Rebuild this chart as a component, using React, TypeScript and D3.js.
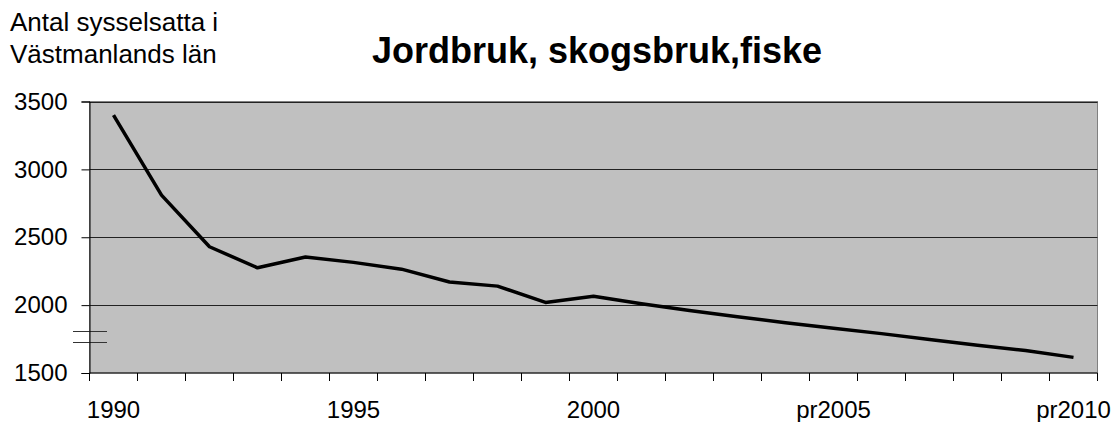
import React, { useEffect, useRef } from "react";
import * as d3 from "d3";

const categories = [
  "1990", "1991", "1992", "1993", "1994", "1995", "1996", "1997", "1998", "1999",
  "2000", "2001", "2002", "2003", "2004", "pr2005", "pr2006", "pr2007", "pr2008", "pr2009",
  "pr2010",
];
const values = [
  3400, 2810, 2430, 2275, 2355, 2315, 2265, 2170, 2140, 2020,
  2065, 2010, 1960, 1915, 1870, 1830, 1790, 1746, 1704, 1665,
  1615,
];
const shownLabels = ["1990", "1995", "2000", "pr2005", "pr2010"];
const yTicks = [1500, 2000, 2500, 3000, 3500];
const title = "Jordbruk, skogsbruk,fiske";
const yTitle = ["Antal sysselsatta i", "Västmanlands län"];

const App = () => {
  const ref = useRef(null);

  useEffect(() => {
    const width = 1117;
    const height = 422;
    const left = 89.5;
    const right = 1097.5;
    const top = 101.5;
    const bottom = 373;
    const font = "'Liberation Sans', Arial, sans-serif";

    document.body.style.margin = "0";
    d3.select(ref.current).selectAll("*").remove();
    const svg = d3
      .select(ref.current)
      .append("svg")
      .attr("width", width)
      .attr("height", height)
      .style("display", "block");

    const x = d3.scaleBand().domain(categories).range([left, right]);
    const y = d3.scaleLinear().domain([1500, 3500]).range([bottom, top]);

    // plot area
    svg
      .append("rect")
      .attr("x", left)
      .attr("y", top)
      .attr("width", right - left)
      .attr("height", bottom - top)
      .style("fill", "#c0c0c0")
      .style("stroke", "#808080")
      .style("stroke-width", 1);

    // gridlines
    svg
      .selectAll(".grid")
      .data(yTicks.slice(1))
      .enter()
      .append("line")
      .attr("x1", left)
      .attr("x2", right)
      .attr("y1", (d) => Math.round(y(d)) + 0.5)
      .attr("y2", (d) => Math.round(y(d)) + 0.5)
      .style("stroke", "#222")
      .style("stroke-width", 1);

    // axis break marks
    [331.5, 342.5].forEach((yy) => {
      svg
        .append("line")
        .attr("x1", 73)
        .attr("x2", 107)
        .attr("y1", yy)
        .attr("y2", yy)
        .style("stroke", "#333")
        .style("stroke-width", 1);
    });

    // y axis
    const yAxis = svg
      .append("g")
      .attr("transform", `translate(${left},0)`)
      .call(
        d3
          .axisLeft(y)
          .tickValues(yTicks)
          .tickSize(8)
          .tickPadding(14)
          .tickFormat((d) => String(d))
      );
    yAxis.select(".domain").style("stroke", "#000");
    yAxis.selectAll("line").style("stroke", "#000");
    yAxis
      .selectAll("text")
      .style("font-family", font)
      .style("font-size", "24px")
      .style("fill", "#000");

    // x axis
    const xAxis = svg
      .append("g")
      .attr("transform", `translate(0,${bottom})`);
    xAxis
      .append("line")
      .attr("x1", left)
      .attr("x2", right)
      .attr("y1", 0)
      .attr("y2", 0)
      .style("stroke", "#000");
    const edges = categories.map((c) => x(c) as number).concat([right]);
    xAxis
      .selectAll(".tick")
      .data(edges)
      .enter()
      .append("line")
      .attr("x1", (d) => d)
      .attr("x2", (d) => d)
      .attr("y1", 0)
      .attr("y2", 8)
      .style("stroke", "#000");
    xAxis
      .selectAll(".lbl")
      .data(shownLabels)
      .enter()
      .append("text")
      .attr("x", (d) => (x(d) as number) + x.bandwidth() / 2)
      .attr("y", 45)
      .attr("text-anchor", "middle")
      .style("font-family", font)
      .style("font-size", "24px")
      .style("fill", "#000")
      .text((d) => d);

    // line
    const line = d3
      .line<number>()
      .x((d, i) => (x(categories[i]) as number) + x.bandwidth() / 2)
      .y((d) => y(d));
    svg
      .append("path")
      .datum(values)
      .attr("d", line)
      .style("fill", "none")
      .style("stroke", "#000")
      .style("stroke-width", 3.5)
      .style("stroke-linejoin", "round");

    // titles
    svg
      .append("text")
      .attr("x", 597)
      .attr("y", 63)
      .attr("text-anchor", "middle")
      .style("font-family", font)
      .style("font-size", "36px")
      .style("font-weight", "bold")
      .text(title);

    svg
      .selectAll(".ytitle")
      .data(yTitle)
      .enter()
      .append("text")
      .attr("x", 10)
      .attr("y", (d, i) => 31 + i * 32)
      .style("font-family", font)
      .style("font-size", "26px")
      .text((d) => d);
  }, []);

  return <div ref={ref}></div>;
};

export default App;
